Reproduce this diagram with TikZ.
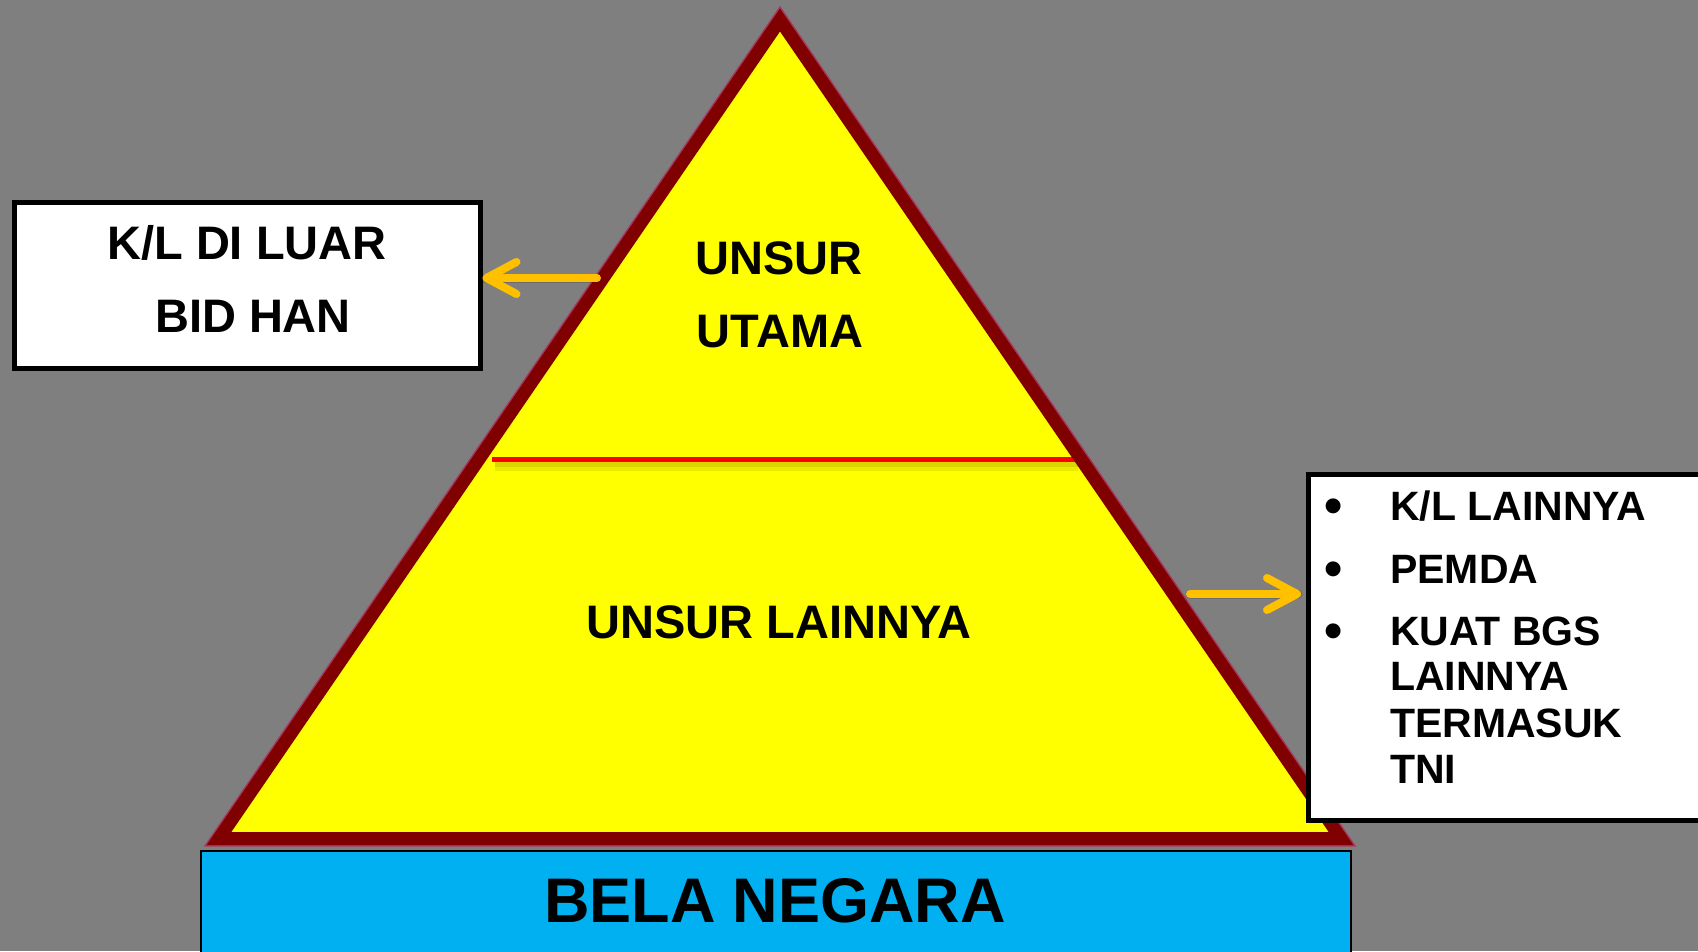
\documentclass[tikz,border=0pt]{standalone}
\usepackage{fontspec}
\setmainfont{Liberation Sans}
\usetikzlibrary{arrows.meta}
\definecolor{bg}{HTML}{7F7F7F}
\definecolor{tri}{HTML}{FFFF00}
\definecolor{rim}{HTML}{800000}
\definecolor{rimedge}{HTML}{A8375F}
\definecolor{sky}{HTML}{00B0F0}
\definecolor{gold}{HTML}{FFC000}
\begin{document}
\begin{tikzpicture}[x=1pt,y=-1pt,
  lbl/.style={font=\fontsize{47}{56}\selectfont\bfseries, inner sep=0pt, anchor=base},
  lst/.style={font=\fontsize{41}{48}\selectfont\bfseries, inner sep=0pt, anchor=base west},
  bul/.style={font=\fontsize{52}{56}\selectfont\bfseries, inner sep=0pt, anchor=center},
  box/.style={draw=black, line width=5pt, fill=white, inner sep=0pt},
  goldarrow/.style={gold, line width=8pt, line cap=round, -{Straight Barb[length=30pt, width=32pt, round]}},
  shade/.style={black, opacity=0.15, line width=9pt, line cap=round, xshift=3pt, yshift=-5pt}
]
\fill[bg] (0,0) rectangle (1698,951);
\useasboundingbox (0,0) rectangle (1698,951);

% pyramid
\coordinate (apex) at (780,20);
\coordinate (bl) at (219,838.5);
\coordinate (br) at (1341,838.5);
\draw[rimedge, line width=16pt, line join=miter] (apex) -- (bl) -- (br) -- cycle;
\fill[tri] (apex) -- (bl) -- (br) -- cycle;
\coordinate (rl1) at (492,459);
\coordinate (rl2) at (1080,459);
\draw[black, opacity=0.08, line width=9pt] (495,466) -- (1078,466);
\draw[black, opacity=0.08, line width=5pt] (495,464) -- (1078,464);
\draw[red, line width=5pt] (rl1) -- (rl2);
\draw[rim, line width=13pt, line join=miter] (apex) -- (bl) -- (br) -- cycle;

\node[lbl] (t1) at (779,274) {UNSUR};
\node[lbl] (t2) at (780,347) {UTAMA};
\node[lbl] (t3) at (779,638) {UNSUR LAINNYA};

% base
\node[draw=black, line width=2.5pt, fill=sky, minimum width=1150pt, minimum height=115pt, inner sep=0pt, anchor=north west] (bela) at (199.5,849.5) {};
\node[lbl, font=\fontsize{63}{70}\selectfont\bfseries] (belatxt) at (775,922) {BELA NEGARA};

% left box
\node[box, minimum width=466pt, minimum height=166pt] (kl) at (247,285) {};
\node[lbl] (kl1) at (247,259) {K/L DI LUAR};
\node[lbl] (kl2) at (253,332) {BID HAN};

% right box
\node[box, minimum width=420pt, minimum height=346pt] (rb) at (1518.5,647.5) {};
\node[bul] (b1) at (1334,511) {•};
\node[bul] (b2) at (1334,574) {•};
\node[bul] (b3) at (1334,636) {•};
\node[lst] (r1) at (1390,520) {K/L LAINNYA};
\node[lst] (r2) at (1390,583) {PEMDA};
\node[lst] (r3) at (1390,645) {KUAT BGS};
\node[lst] (r4) at (1390,690) {LAINNYA};
\node[lst] (r5) at (1390,737) {TERMASUK};
\node[lst] (r6) at (1390,783) {TNI};

% arrows
\coordinate (la) at (597,278);
\coordinate (ra) at (1190,594);
\draw[shade] (la) -- (la -| kl.east);
\draw[goldarrow] (la) -- (la -| kl.east);
\draw[shade, shorten >=8pt] (ra) -- (ra -| rb.west);
\draw[goldarrow, shorten >=5pt] (ra) -- (ra -| rb.west);
\end{tikzpicture}
\end{document}
